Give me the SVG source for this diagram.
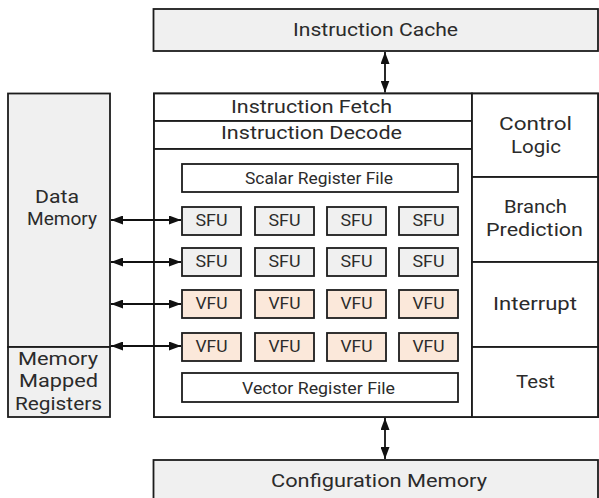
<svg xmlns="http://www.w3.org/2000/svg" width="599" height="498" viewBox="0 0 599 498">
<defs>
<marker id="ah" viewBox="0 0 12 9" refX="12" refY="4.5" markerWidth="12" markerHeight="9" markerUnits="userSpaceOnUse" orient="auto-start-reverse">
<path d="M0,0 L12,4.5 L0,9 Z" fill="#111"/>
</marker>
</defs>
<style>
rect{stroke:#1c1c1c;stroke-width:1.8}
.g{fill:#f0f0f0}
.w{fill:#fff}
.v{fill:#fbe8da}
text{font-family:Roboto,"Open Sans","Liberation Sans",sans-serif;fill:#2b2b2b;text-anchor:middle}
.L{font-size:18px}
.S{font-size:16px}
.c{stroke:#111;stroke-width:1.8;fill:none;marker-start:url(#ah);marker-end:url(#ah)}
</style>
<rect width="599" height="498" fill="#fff" style="stroke:none"/>
<g id="instruction-cache">
<rect class="g" x="153.5" y="9" width="444.5" height="42"/>
<text class="L" x="375.5" y="36" textLength="165" lengthAdjust="spacingAndGlyphs">Instruction Cache</text>
</g>
<g id="core">
<rect class="w" x="154" y="93.5" width="444" height="323.5"/>
</g>
<g id="instruction-fetch">
<rect class="w" x="154" y="93.5" width="318" height="27.5"/>
<text class="L" x="311.5" y="113" textLength="161" lengthAdjust="spacingAndGlyphs">Instruction Fetch</text>
</g>
<g id="instruction-decode">
<rect class="w" x="154" y="121" width="318" height="28"/>
<text class="L" x="311.5" y="139" textLength="181" lengthAdjust="spacingAndGlyphs">Instruction Decode</text>
</g>
<g id="datapath">
<rect class="w" x="154" y="149" width="318" height="268"/>
</g>
<g id="control-logic">
<rect class="w" x="472" y="93.5" width="126" height="83.5"/>
<text class="L" x="535.5" y="130" textLength="73" lengthAdjust="spacingAndGlyphs">Control</text>
<text class="L" x="536" y="152.5" textLength="50" lengthAdjust="spacingAndGlyphs">Logic</text>
</g>
<g id="branch-prediction">
<rect class="w" x="472" y="177" width="126" height="85"/>
<text class="L" x="535.5" y="213" textLength="63" lengthAdjust="spacingAndGlyphs">Branch</text>
<text class="L" x="534.5" y="236" textLength="97" lengthAdjust="spacingAndGlyphs">Prediction</text>
</g>
<g id="interrupt">
<rect class="w" x="472" y="262" width="126" height="85"/>
<text class="L" x="535" y="310" textLength="84" lengthAdjust="spacingAndGlyphs">Interrupt</text>
</g>
<g id="test">
<rect class="w" x="472" y="347" width="126" height="70"/>
<text class="L" x="535.5" y="388" textLength="39" lengthAdjust="spacingAndGlyphs">Test</text>
</g>
<g id="data-memory">
<rect class="g" x="8" y="93.5" width="102" height="253.5"/>
<text class="L" x="57" y="202.5" textLength="44" lengthAdjust="spacingAndGlyphs">Data</text>
<text class="L" x="62" y="225" textLength="70" lengthAdjust="spacingAndGlyphs">Memory</text>
</g>
<g id="memory-mapped-registers">
<rect class="g" x="8" y="347" width="102" height="70"/>
<text class="L" x="58" y="364.5" textLength="80" lengthAdjust="spacingAndGlyphs">Memory</text>
<text class="L" x="58.5" y="387" textLength="79" lengthAdjust="spacingAndGlyphs">Mapped</text>
<text class="L" x="58.5" y="410" textLength="87" lengthAdjust="spacingAndGlyphs">Registers</text>
</g>
<g id="scalar-register-file">
<rect class="w" x="182" y="164" width="276" height="28"/>
<text class="S" x="319" y="184" textLength="148" lengthAdjust="spacingAndGlyphs">Scalar Register File</text>
</g>
<g id="sfu-1-1"><rect class="g" x="182" y="207" width="59" height="28"/><text class="S" x="211.5" y="226" textLength="32" lengthAdjust="spacingAndGlyphs">SFU</text></g>
<g id="sfu-1-2"><rect class="g" x="255" y="207" width="59" height="28"/><text class="S" x="284.5" y="226" textLength="32" lengthAdjust="spacingAndGlyphs">SFU</text></g>
<g id="sfu-1-3"><rect class="g" x="327" y="207" width="59" height="28"/><text class="S" x="356.5" y="226" textLength="32" lengthAdjust="spacingAndGlyphs">SFU</text></g>
<g id="sfu-1-4"><rect class="g" x="399" y="207" width="59" height="28"/><text class="S" x="428.5" y="226" textLength="32" lengthAdjust="spacingAndGlyphs">SFU</text></g>
<g id="sfu-2-1"><rect class="g" x="182" y="248" width="59" height="28"/><text class="S" x="211.5" y="267" textLength="32" lengthAdjust="spacingAndGlyphs">SFU</text></g>
<g id="sfu-2-2"><rect class="g" x="255" y="248" width="59" height="28"/><text class="S" x="284.5" y="267" textLength="32" lengthAdjust="spacingAndGlyphs">SFU</text></g>
<g id="sfu-2-3"><rect class="g" x="327" y="248" width="59" height="28"/><text class="S" x="356.5" y="267" textLength="32" lengthAdjust="spacingAndGlyphs">SFU</text></g>
<g id="sfu-2-4"><rect class="g" x="399" y="248" width="59" height="28"/><text class="S" x="428.5" y="267" textLength="32" lengthAdjust="spacingAndGlyphs">SFU</text></g>
<g id="vfu-1-1"><rect class="v" x="182" y="290" width="59" height="28"/><text class="S" x="211.5" y="309" textLength="32" lengthAdjust="spacingAndGlyphs">VFU</text></g>
<g id="vfu-1-2"><rect class="v" x="255" y="290" width="59" height="28"/><text class="S" x="284.5" y="309" textLength="32" lengthAdjust="spacingAndGlyphs">VFU</text></g>
<g id="vfu-1-3"><rect class="v" x="327" y="290" width="59" height="28"/><text class="S" x="356.5" y="309" textLength="32" lengthAdjust="spacingAndGlyphs">VFU</text></g>
<g id="vfu-1-4"><rect class="v" x="399" y="290" width="59" height="28"/><text class="S" x="428.5" y="309" textLength="32" lengthAdjust="spacingAndGlyphs">VFU</text></g>
<g id="vfu-2-1"><rect class="v" x="182" y="333" width="59" height="28"/><text class="S" x="211.5" y="352" textLength="32" lengthAdjust="spacingAndGlyphs">VFU</text></g>
<g id="vfu-2-2"><rect class="v" x="255" y="333" width="59" height="28"/><text class="S" x="284.5" y="352" textLength="32" lengthAdjust="spacingAndGlyphs">VFU</text></g>
<g id="vfu-2-3"><rect class="v" x="327" y="333" width="59" height="28"/><text class="S" x="356.5" y="352" textLength="32" lengthAdjust="spacingAndGlyphs">VFU</text></g>
<g id="vfu-2-4"><rect class="v" x="399" y="333" width="59" height="28"/><text class="S" x="428.5" y="352" textLength="32" lengthAdjust="spacingAndGlyphs">VFU</text></g>
<g id="vector-register-file">
<rect class="w" x="182" y="373" width="276" height="29"/>
<text class="S" x="318.5" y="394" textLength="153" lengthAdjust="spacingAndGlyphs">Vector Register File</text>
</g>
<g id="configuration-memory">
<rect class="g" x="153.5" y="460" width="444.5" height="45"/>
<text class="L" x="379" y="487" textLength="216" lengthAdjust="spacingAndGlyphs">Configuration Memory</text>
</g>
<g id="connectors">
<line class="c" x1="385" y1="52" x2="385" y2="92.5"/>
<line class="c" x1="385" y1="418" x2="385" y2="459"/>
<line class="c" x1="111" y1="220" x2="181" y2="220"/>
<line class="c" x1="111" y1="262" x2="181" y2="262"/>
<line class="c" x1="111" y1="304" x2="181" y2="304"/>
<line class="c" x1="111" y1="346" x2="181" y2="346"/>
</g>
</svg>
